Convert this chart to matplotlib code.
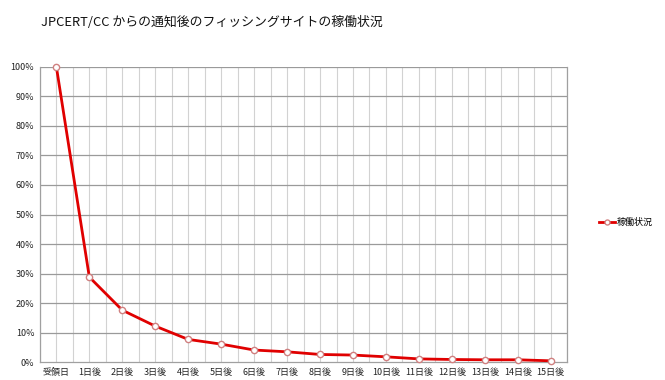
import matplotlib
matplotlib.use("Agg")
import matplotlib.pyplot as plt
import numpy as np
from matplotlib.ticker import MultipleLocator, FuncFormatter

plt.rcParams['font.family'] = ['Noto Sans CJK JP', 'DejaVu Sans']

categories = ["受領日", "1日後", "2日後", "3日後", "4日後", "5日後", "6日後", "7日後",
              "8日後", "9日後", "10日後", "11日後", "12日後", "13日後", "14日後", "15日後"]
values = [100, 28.8, 17.6, 12.2, 7.7, 6.1, 4.1, 3.5, 2.6, 2.4, 1.8, 1.1, 0.9, 0.8, 0.8, 0.45]
series_name = "稼働状況"
title = "JPCERT/CC からの通知後のフィッシングサイトの稼働状況"

fig = plt.figure(figsize=(6.65, 3.8), dpi=100)
ax = fig.add_axes([0.060, 0.047, 0.793, 0.777])

x = np.arange(len(categories))
ax.plot(x, values, color="#e00000", lw=2.0, marker="o", ms=4.5,
        mfc="white", mec="#d08080", mew=1.0, label=series_name, zorder=3,
        clip_on=False)

ax.set_xlim(-0.5, len(categories) - 0.5)
ax.set_ylim(0, 100)
ax.yaxis.set_major_locator(MultipleLocator(10))
ax.yaxis.set_major_formatter(FuncFormatter(lambda v, p: f"{int(v)}%"))
ax.set_xticks(x)
ax.set_xticklabels(categories)
ax.tick_params(axis="both", labelsize=6.5, length=0, pad=4, colors="#222222")

# gridlines
for v in np.arange(-0.5, len(categories), 0.5):
    ax.axvline(v, color="#d2d2d2", lw=0.8, zorder=1)
for v in range(10, 101, 10):
    ax.axhline(v, color="#9a9a9a", lw=0.9, zorder=1)

for s in ["top"]:
    ax.spines[s].set_visible(False)
for s in ["left", "bottom", "right"]:
    ax.spines[s].set_color("#a0a0a0")
    ax.spines[s].set_linewidth(0.9)

fig.text(0.062, 0.94, title, fontsize=9.3, color="#111111", va="center", ha="left")

fig.legend(loc="center left", bbox_to_anchor=(0.888, 0.415), frameon=False,
           fontsize=6.5, handlelength=1.8, handletextpad=0.2, markerscale=0.8)

fig.savefig("out.png", dpi=100)
